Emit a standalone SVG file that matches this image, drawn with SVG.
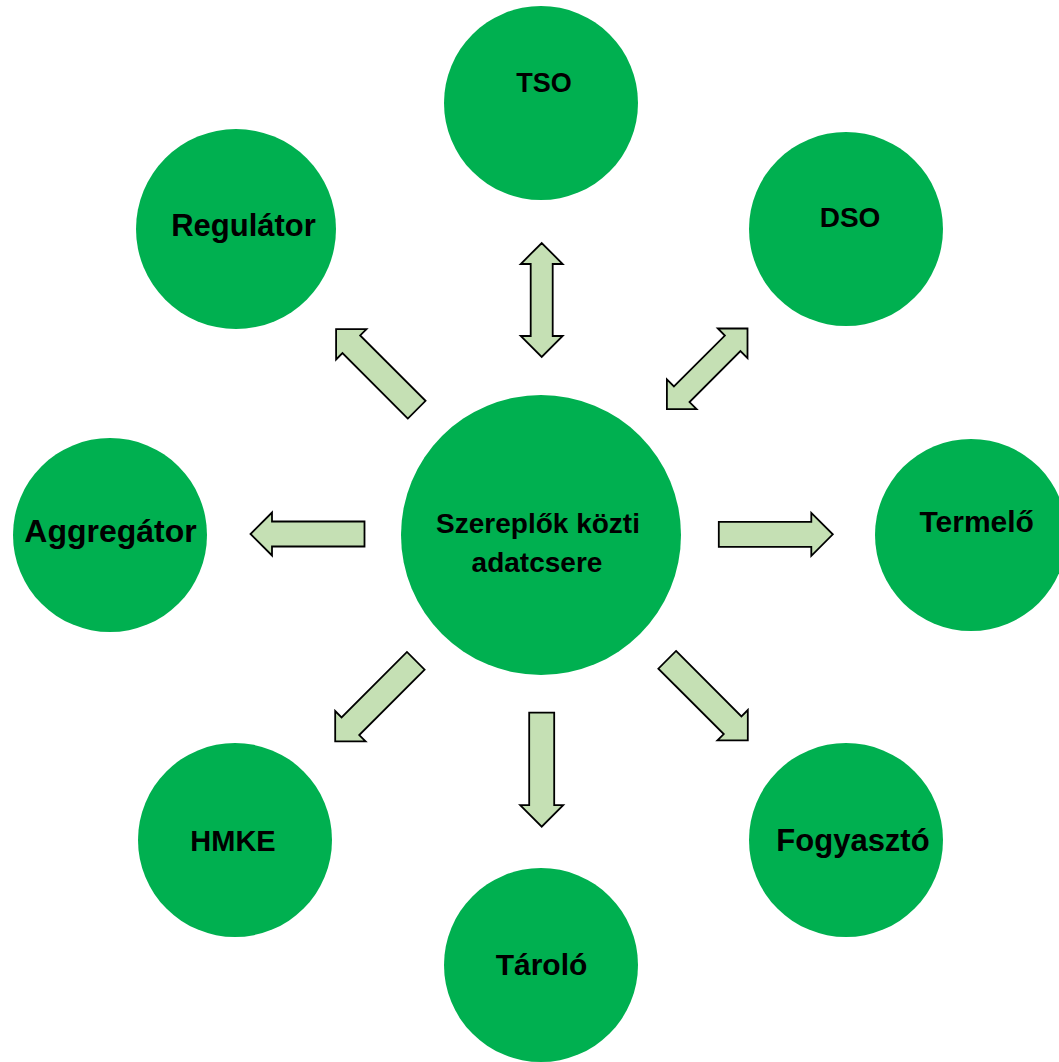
<svg xmlns="http://www.w3.org/2000/svg" width="1059" height="1062" viewBox="0 0 1059 1062">
<style>
.n{fill:#00B050;}
.t{font-family:"Liberation Sans",Arial,sans-serif;font-weight:bold;fill:#000;text-anchor:middle;}
.a{fill:#C5E0B4;stroke:#000;stroke-width:1.8;stroke-linejoin:miter;}
</style>
<defs>
<polygon id="arr" points="-57,-12.5 35.5,-12.5 35.5,-21.5 57,0 35.5,21.5 35.5,12.5 -57,12.5"/>
<polygon id="darr" points="-36,-11 36,-11 36,-21 57,0 36,21 36,11 -36,11 -36,21 -57,0 -36,-21"/>
</defs>
<rect width="1059" height="1062" fill="#fff"/>
<g id="connectors">
<use href="#darr" class="a" transform="translate(541.7,300) rotate(90)"/>
<use href="#darr" class="a" transform="translate(707.2,368.8) rotate(-45)"/>
<use href="#arr" class="a" transform="translate(376.4,369.4) rotate(-135)"/>
<use href="#arr" class="a" transform="translate(307.5,534) rotate(180)"/>
<use href="#arr" class="a" transform="translate(775.8,534.3)"/>
<use href="#arr" class="a" transform="translate(375.5,701.1) rotate(135)"/>
<use href="#arr" class="a" transform="translate(707.5,700.1) rotate(45)"/>
<use href="#arr" class="a" transform="translate(541.7,769.7) rotate(90)"/>
</g>
<g id="center"><circle class="n" cx="541" cy="535" r="140"/><text class="t" font-size="28" x="538" y="533">Szereplők közti</text><text class="t" font-size="28" x="537" y="572">adatcsere</text></g>
<g id="tso"><circle class="n" cx="541" cy="103" r="97"/><text class="t" font-size="27" x="544" y="92">TSO</text></g>
<g id="regulator"><circle class="n" cx="236" cy="229" r="100"/><text class="t" font-size="31" x="243.5" y="236">Regulátor</text></g>
<g id="dso"><circle class="n" cx="846" cy="229" r="97"/><text class="t" font-size="28" x="850" y="227">DSO</text></g>
<g id="aggregator"><circle class="n" cx="110" cy="535" r="97"/><text class="t" font-size="32" x="110.5" y="542">Aggregátor</text></g>
<g id="termelo"><circle class="n" cx="971" cy="535" r="96"/><text class="t" font-size="30" x="976.7" y="531.7">Termelő</text></g>
<g id="hmke"><circle class="n" cx="235" cy="840" r="97"/><text class="t" font-size="29" x="233" y="851">HMKE</text></g>
<g id="fogyaszto"><circle class="n" cx="846" cy="840" r="97"/><text class="t" font-size="31" x="853" y="851">Fogyasztó</text></g>
<g id="tarolo"><circle class="n" cx="541" cy="965" r="97"/><text class="t" font-size="30" x="541.5" y="975">Tároló</text></g>
</svg>
